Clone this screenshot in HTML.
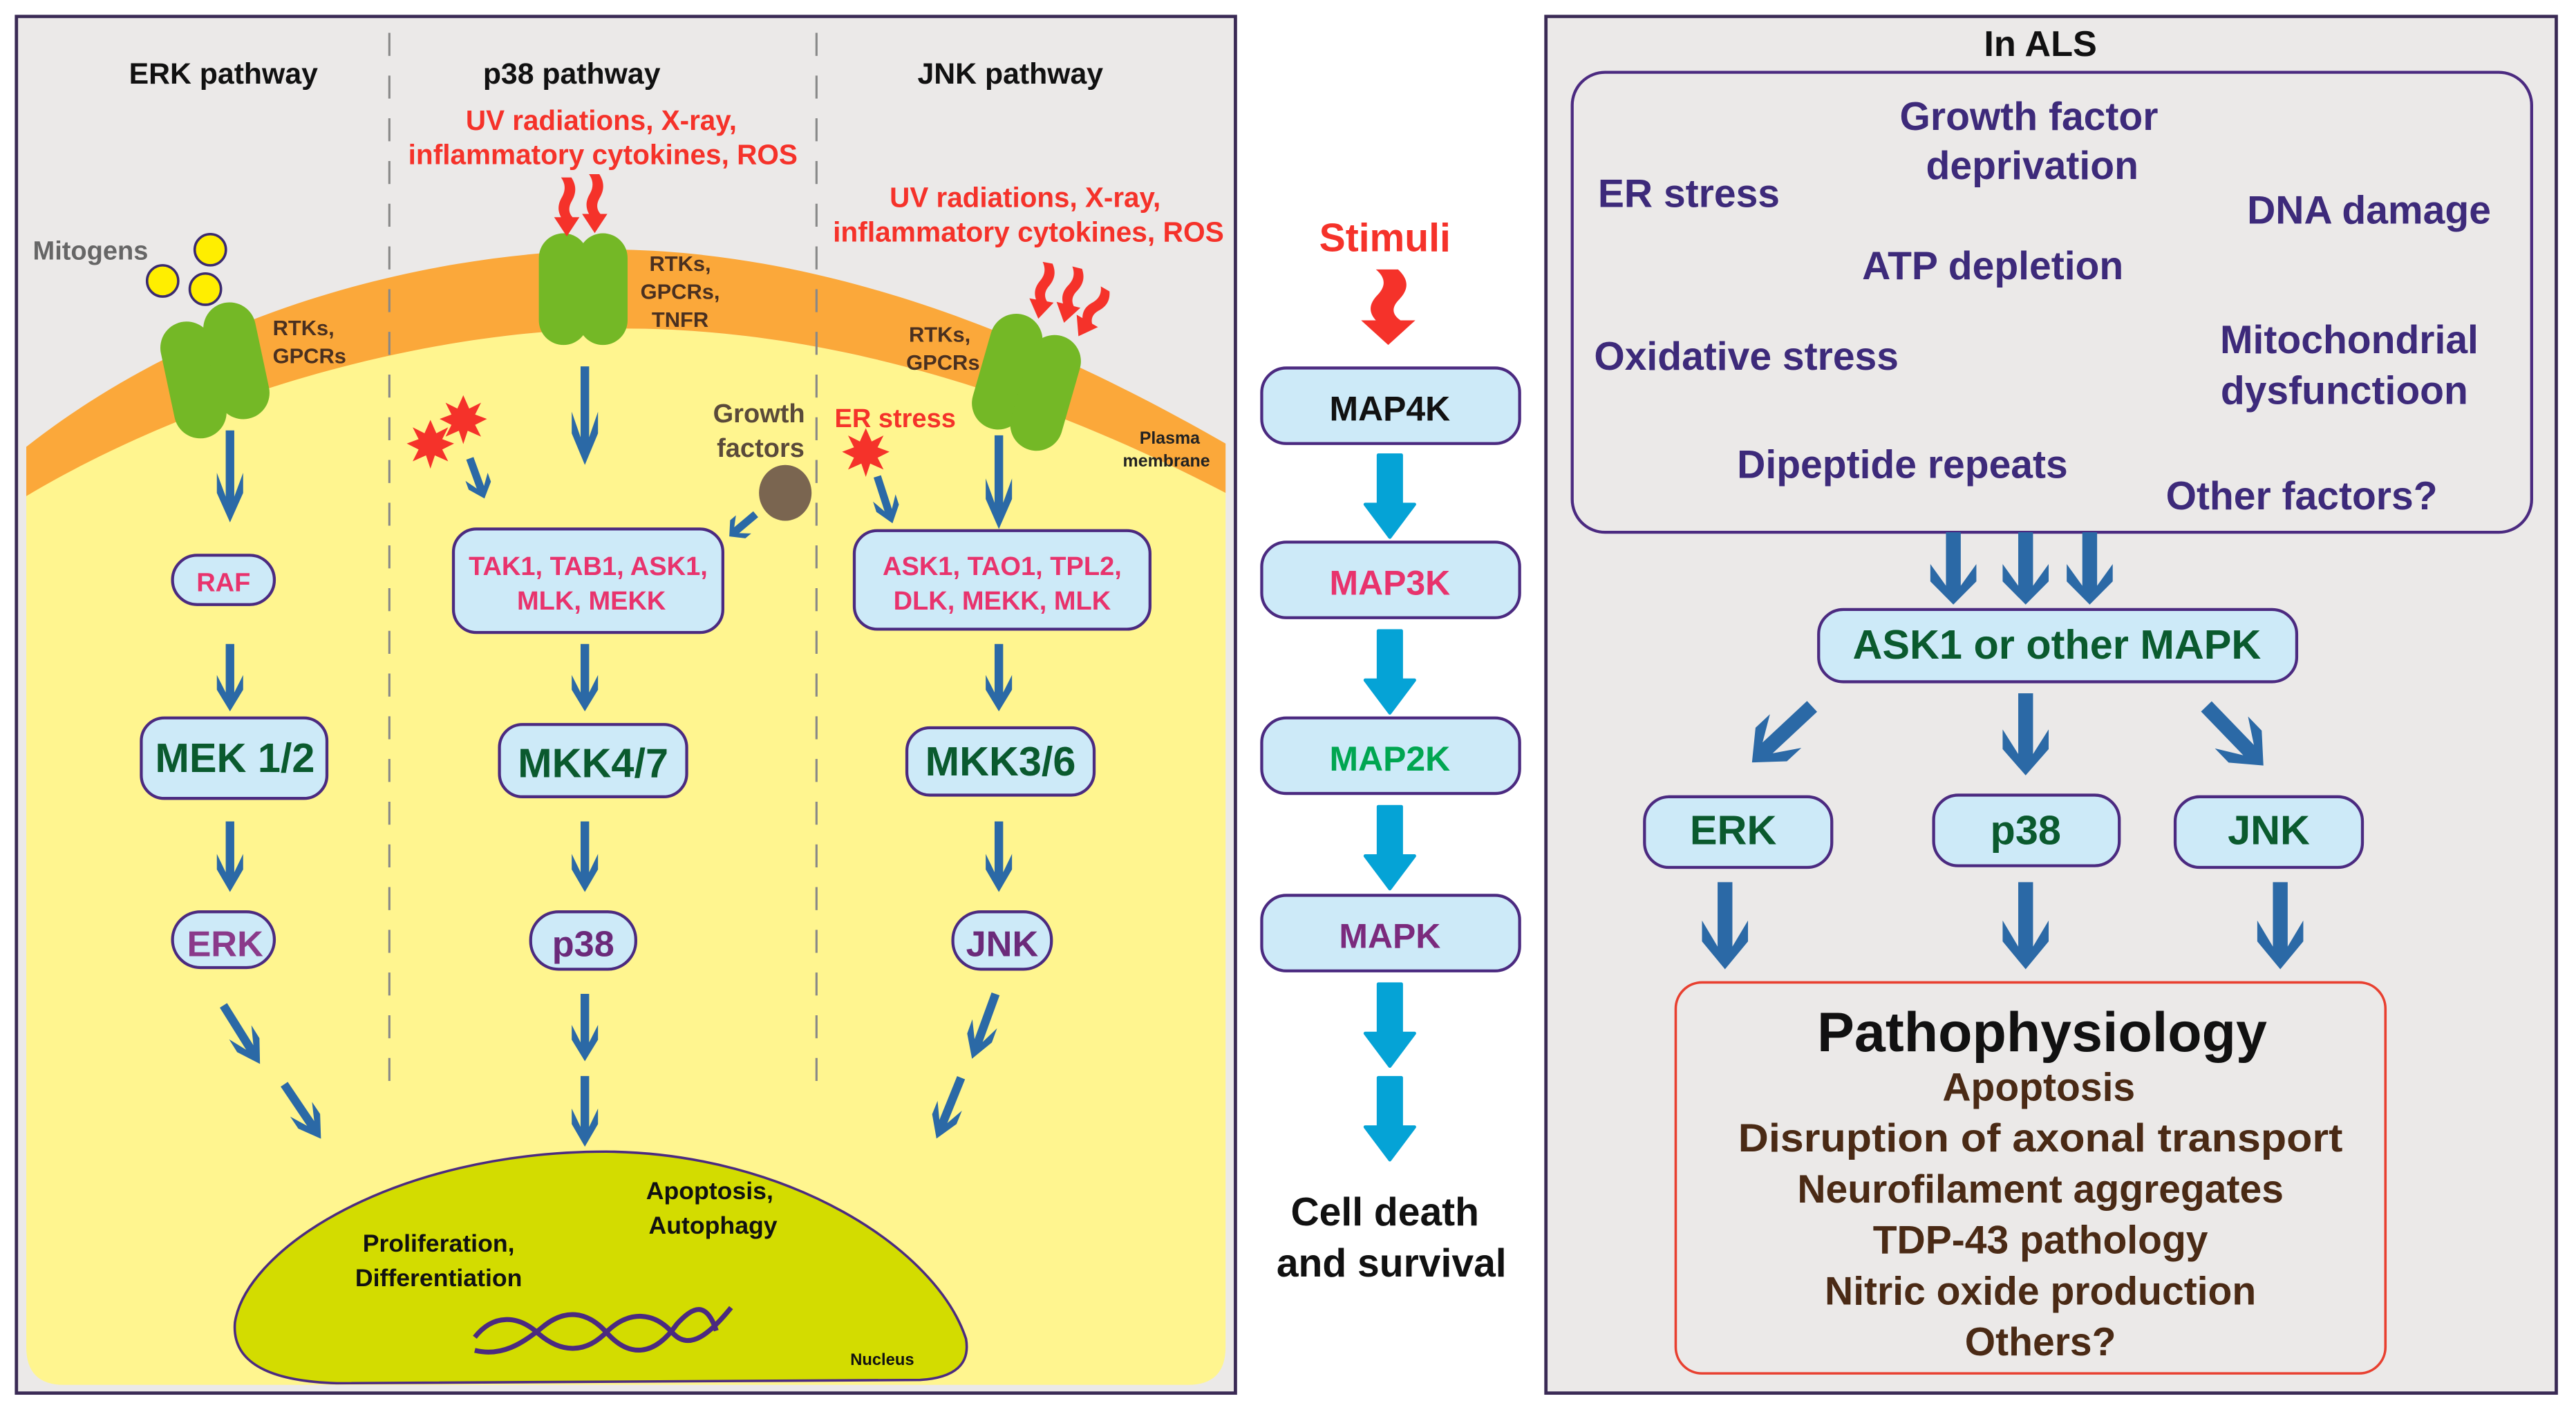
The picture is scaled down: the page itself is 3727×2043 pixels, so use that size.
<!DOCTYPE html>
<html><head><meta charset="utf-8"><style>
html,body{margin:0;padding:0;background:#fff}
svg{display:block}
text{font-family:"Liberation Sans Narrow","Liberation Sans",sans-serif;font-weight:bold}
.w{font-family:"Liberation Sans",sans-serif;font-weight:bold}
</style></head><body>
<svg width="3727" height="2043" viewBox="0 0 1568 859.5" xmlns="http://www.w3.org/2000/svg">
<defs>
<polygon id="ab" points="-2.6,0 2.6,0 2.6,36 8,23 8,34 0,50 -8,34 -8,23 -2.6,36" fill="#2b69a6"/>
<polygon id="ar" points="-4.5,0 4.5,0 4.5,37 14,22 14,34 0,50 -14,34 -14,22 -4.5,37" fill="#2b69a6"/>
<path id="ac" d="M-7,0 H7 V30 H15 L0,50 L-15,30 H-7 Z" fill="#05a3d6" stroke="#05a3d6" stroke-width="2" stroke-linejoin="round"/>
<path id="sq" d="M-5,0 L4,0 C9,7 8,13 4,19 C1,24 2,28 5,31 L11,31 L0,46 L-11,31 L-5,31 C-8,26 -8,21 -4,15 C-1,10 -1,5 -5,0 Z" fill="#f5322a"/>
<polygon id="star" points="0,-16 4,-7 12,-11 8,-3 16,0 8,4 12,12 3,8 0,17 -3,8 -12,12 -8,4 -16,0 -8,-3 -12,-11 -4,-7" fill="#f5322a"/>
</defs>

<!-- LEFT PANEL -->
<rect x="10" y="10" width="742" height="838" fill="#ebe9e8" stroke="#3a2a55" stroke-width="2"/>
<path d="M16,300 C120,240 260,200 380,200 C520,200 650,250 746,300 L746,820 Q746,843 723,843 L39,843 Q16,843 16,820 Z" fill="#fff58f"/>
<path d="M16,272 C120,190 260,152 380,152 C520,155 650,215 746,270 L746,300 C650,250 520,200 380,200 C260,200 120,240 16,302 Z" fill="#fba83a"/>
<line x1="237" y1="20" x2="237" y2="665" stroke="#888" stroke-width="1.3" stroke-dasharray="14,12"/>
<line x1="497" y1="20" x2="497" y2="665" stroke="#888" stroke-width="1.3" stroke-dasharray="14,12"/>

<text x="136" y="51" font-size="18" text-anchor="middle" fill="#111">ERK pathway</text>
<text x="348" y="51" font-size="18" text-anchor="middle" fill="#111">p38 pathway</text>
<text x="615" y="51" font-size="18" text-anchor="middle" fill="#111">JNK pathway</text>

<text x="366" y="79" font-size="17" text-anchor="middle" fill="#f5322a">UV radiations, X-ray,</text>
<text x="367" y="100" font-size="17" text-anchor="middle" fill="#f5322a" textLength="237" lengthAdjust="spacingAndGlyphs">inflammatory cytokines, ROS</text>
<text x="624" y="126" font-size="17" text-anchor="middle" fill="#f5322a">UV radiations, X-ray,</text>
<text x="626" y="147" font-size="17" text-anchor="middle" fill="#f5322a" textLength="238" lengthAdjust="spacingAndGlyphs">inflammatory cytokines, ROS</text>

<text x="20" y="158" font-size="16" fill="#666">Mitogens</text>
<circle cx="128" cy="152" r="9.5" fill="#ffee00" stroke="#3a2a70" stroke-width="1.5"/>
<circle cx="99" cy="171" r="9.5" fill="#ffee00" stroke="#3a2a70" stroke-width="1.5"/>
<circle cx="125" cy="176" r="9.5" fill="#ffee00" stroke="#3a2a70" stroke-width="1.5"/>

<!-- receptors -->
<g transform="translate(133,226) rotate(-12)" fill="#74b826">
<rect x="-32" y="-34" width="32" height="72" rx="16"/><rect x="-4" y="-40" width="32" height="72" rx="16"/></g>
<g transform="translate(355,176)" fill="#74b826">
<rect x="-27" y="-34" width="30" height="68" rx="15"/><rect x="-3" y="-34" width="30" height="68" rx="15"/></g>
<g transform="translate(626,232) rotate(16)" fill="#74b826">
<rect x="-30" y="-38" width="32" height="72" rx="16"/><rect x="-4" y="-32" width="32" height="72" rx="16"/></g>

<text x="166" y="204" font-size="13" fill="#4a3020">RTKs,</text>
<text x="166" y="221" font-size="13" fill="#4a3020">GPCRs</text>
<text x="414" y="165" font-size="13" text-anchor="middle" fill="#4a3020">RTKs,</text>
<text x="414" y="182" font-size="13" text-anchor="middle" fill="#4a3020">GPCRs,</text>
<text x="414" y="199" font-size="13" text-anchor="middle" fill="#4a3020">TNFR</text>
<text x="572" y="208" font-size="13" text-anchor="middle" fill="#4a3020">RTKs,</text>
<text x="574" y="225" font-size="13" text-anchor="middle" fill="#4a3020">GPCRs</text>
<text x="712" y="270" font-size="10.5" text-anchor="middle" fill="#222">Plasma</text>
<text x="710" y="284" font-size="10.5" text-anchor="middle" fill="#222">membrane</text>

<!-- red squiggles -->
<use href="#sq" transform="translate(345,108) scale(0.7,0.78)"/>
<use href="#sq" transform="translate(362,106) scale(0.7,0.78)"/>
<use href="#sq" transform="translate(638,160) rotate(10) scale(0.68,0.75)"/>
<use href="#sq" transform="translate(656,163) rotate(14) scale(0.68,0.75)"/>
<use href="#sq" transform="translate(673,176) rotate(30) scale(0.68,0.72)"/>

<use href="#star" transform="translate(262,270) scale(0.9)"/>
<use href="#star" transform="translate(282,255) scale(0.9)"/>
<use href="#star" transform="translate(527,275) scale(0.9)"/>
<text x="508" y="260" font-size="16" fill="#f5322a">ER stress</text>
<text x="462" y="257" font-size="16" text-anchor="middle" fill="#5a4a3a">Growth</text>
<text x="463" y="278" font-size="16" text-anchor="middle" fill="#5a4a3a">factors</text>
<ellipse cx="478" cy="300" rx="16" ry="17" fill="#7a6550"/>

<!-- blue arrows left panel -->
<use href="#ab" transform="translate(140,262) scale(1,1.12)"/>
<use href="#ab" transform="translate(356,223) scale(1,1.2)"/>
<use href="#ab" transform="translate(608,265) scale(1,1.14)"/>
<use href="#ab" transform="translate(286,279) rotate(-20) scale(0.9,0.52)"/>
<use href="#ab" transform="translate(534,290) rotate(-18) scale(0.9,0.6)"/>
<use href="#ab" transform="translate(460,313) rotate(50) scale(0.9,0.42)"/>
<g>
<use href="#ab" transform="translate(140,392) scale(1,0.82)"/>
<use href="#ab" transform="translate(356,392) scale(1,0.82)"/>
<use href="#ab" transform="translate(608,392) scale(1,0.82)"/>
<use href="#ab" transform="translate(140,500) scale(1,0.86)"/>
<use href="#ab" transform="translate(356,500) scale(1,0.86)"/>
<use href="#ab" transform="translate(608,500) scale(1,0.86)"/>
<use href="#ab" transform="translate(356,605) scale(1,0.82)"/>
<use href="#ab" transform="translate(356,655) scale(1,0.86)"/>
<use href="#ab" transform="translate(136,612) rotate(-32) scale(1,0.84)"/>
<use href="#ab" transform="translate(173,660) rotate(-34) scale(1,0.8)"/>
<use href="#ab" transform="translate(606,605) rotate(20) scale(1,0.84)"/>
<use href="#ab" transform="translate(585,656) rotate(22) scale(1,0.8)"/>
</g>

<!-- left boxes -->
<g stroke="#4b2a80" stroke-width="1.8" fill="#cdeaf8">
<rect x="105" y="338" width="62" height="30" rx="15"/>
<rect x="276" y="322" width="164" height="63" rx="14"/>
<rect x="520" y="323" width="180" height="60" rx="14"/>
<rect x="86" y="437" width="113" height="49" rx="14"/>
<rect x="304" y="441" width="114" height="44" rx="14"/>
<rect x="552" y="443" width="114" height="41" rx="14"/>
<rect x="105" y="555" width="62" height="34" rx="17"/>
<rect x="323" y="555" width="64" height="35" rx="17"/>
<rect x="580" y="555" width="60" height="35" rx="17"/>
</g>
<text x="136" y="360" font-size="16" text-anchor="middle" fill="#e8336d">RAF</text>
<text x="358" y="350" font-size="16" text-anchor="middle" fill="#e8336d">TAK1, TAB1, ASK1,</text>
<text x="360" y="371" font-size="16" text-anchor="middle" fill="#e8336d">MLK, MEKK</text>
<text x="610" y="350" font-size="16" text-anchor="middle" fill="#e8336d">ASK1, TAO1, TPL2,</text>
<text x="610" y="371" font-size="16" text-anchor="middle" fill="#e8336d">DLK, MEKK, MLK</text>
<text x="143" y="470" font-size="25" text-anchor="middle" fill="#0a5a2e">MEK 1/2</text>
<text x="361" y="473" font-size="25" text-anchor="middle" fill="#0a5a2e">MKK4/7</text>
<text x="609" y="472" font-size="25" text-anchor="middle" fill="#0a5a2e">MKK3/6</text>
<text x="137" y="582" font-size="22" text-anchor="middle" fill="#8a3a8a">ERK</text>
<text x="355" y="582" font-size="22" text-anchor="middle" fill="#6b2a7a">p38</text>
<text x="610" y="582" font-size="22" text-anchor="middle" fill="#6b2a7a">JNK</text>

<!-- nucleus -->
<path d="M143,805 C150,760 240,701 369,701 C480,702 570,760 588,815 Q592,838 560,840 L205,842 Q140,840 143,805 Z" fill="#d3dc00" stroke="#4b2a80" stroke-width="1.5"/>
<text x="267" y="762" font-size="15" text-anchor="middle" fill="#111">Proliferation,</text>
<text x="267" y="783" font-size="15" text-anchor="middle" fill="#111">Differentiation</text>
<text x="432" y="730" font-size="15" text-anchor="middle" fill="#111">Apoptosis,</text>
<text x="434" y="751" font-size="15" text-anchor="middle" fill="#111">Autophagy</text>
<text x="537" y="831" font-size="10" text-anchor="middle" fill="#111">Nucleus</text>
<path d="M289,814 C300,800 315,800 328,812 C342,824 357,824 370,810 C383,798 398,798 410,812 C420,822 432,812 445,796" fill="none" stroke="#4b2a80" stroke-width="3"/>
<path d="M289,822 C305,826 318,818 330,808 C343,797 357,797 370,812 C383,826 398,826 412,806 C422,795 430,792 436,810" fill="none" stroke="#4b2a80" stroke-width="3"/>

<!-- MIDDLE -->
<text class="w" x="843" y="153" font-size="24" text-anchor="middle" fill="#f5322a">Stimuli</text>
<use href="#sq" transform="translate(845,164) scale(1.5,1.0)"/>
<g stroke="#4b2a80" stroke-width="1.8" fill="#cdeaf8">
<rect x="768" y="224" width="157" height="46" rx="15"/>
<rect x="768" y="330" width="157" height="46" rx="15"/>
<rect x="768" y="437" width="157" height="46" rx="15"/>
<rect x="768" y="545" width="157" height="46" rx="15"/>
</g>
<text class="w" x="846" y="256" font-size="21" text-anchor="middle" fill="#111">MAP4K</text>
<text class="w" x="846" y="362" font-size="21" text-anchor="middle" fill="#e8336d">MAP3K</text>
<text class="w" x="846" y="469" font-size="21" text-anchor="middle" fill="#00a651">MAP2K</text>
<text class="w" x="846" y="577" font-size="21" text-anchor="middle" fill="#7b2a7d">MAPK</text>
<use href="#ac" transform="translate(846,277)"/>
<use href="#ac" transform="translate(846,384)"/>
<use href="#ac" transform="translate(846,491)"/>
<use href="#ac" transform="translate(846,599)"/>
<use href="#ac" transform="translate(846,656)"/>
<text x="843" y="746" font-size="24" text-anchor="middle" fill="#111">Cell death</text>
<text x="847" y="777" font-size="24" text-anchor="middle" fill="#111">and survival</text>

<!-- RIGHT PANEL -->
<rect x="941" y="10" width="615" height="838" fill="#ebe9e8" stroke="#3a2a55" stroke-width="2"/>
<text x="1242" y="34" font-size="22" text-anchor="middle" fill="#111">In ALS</text>
<rect x="957" y="44" width="584" height="280" rx="20" fill="none" stroke="#4b2a80" stroke-width="1.8"/>
<g font-size="24" fill="#3d2a7a" text-anchor="middle">
<text x="1235" y="79">Growth factor</text>
<text x="1237" y="109">deprivation</text>
<text x="1028" y="126">ER stress</text>
<text x="1442" y="136">DNA damage</text>
<text x="1213" y="170">ATP depletion</text>
<text x="1063" y="225">Oxidative stress</text>
<text x="1430" y="215">Mitochondrial</text>
<text x="1427" y="246">dysfunctioon</text>
<text x="1158" y="291">Dipeptide repeats</text>
<text x="1401" y="310">Other factors?</text>
</g>
<use href="#ar" transform="translate(1189,324) scale(1,0.88)"/>
<use href="#ar" transform="translate(1233,324) scale(1,0.88)"/>
<use href="#ar" transform="translate(1272,324) scale(1,0.88)"/>
<g stroke="#4b2a80" stroke-width="1.8" fill="#cdeaf8">
<rect x="1107" y="371" width="291" height="44" rx="15"/>
<rect x="1001" y="485" width="114" height="43" rx="15"/>
<rect x="1177" y="484" width="113" height="43" rx="15"/>
<rect x="1324" y="485" width="114" height="43" rx="15"/>
</g>
<text x="1252" y="401" font-size="25" text-anchor="middle" fill="#0a5a2e">ASK1 or other MAPK</text>
<text x="1055" y="514" font-size="25" text-anchor="middle" fill="#0a5a2e">ERK</text>
<text x="1233" y="514" font-size="25" text-anchor="middle" fill="#0a5a2e">p38</text>
<text x="1381" y="514" font-size="25" text-anchor="middle" fill="#0a5a2e">JNK</text>
<use href="#ar" transform="translate(1103,430) rotate(47) scale(1,1)"/>
<use href="#ar" transform="translate(1233,422) scale(1,1)"/>
<use href="#ar" transform="translate(1343,430) rotate(-44) scale(1,1)"/>
<use href="#ar" transform="translate(1050,537) scale(1,1.06)"/>
<use href="#ar" transform="translate(1233,537) scale(1,1.06)"/>
<use href="#ar" transform="translate(1388,537) scale(1,1.06)"/>
<rect x="1020" y="598" width="432" height="238" rx="16" fill="none" stroke="#e84030" stroke-width="1.5"/>
<text x="1243" y="640" font-size="34" text-anchor="middle" fill="#111" style="font-family:'Liberation Sans',sans-serif">Pathophysiology</text>
<g font-size="24" fill="#4a2a15" text-anchor="middle">
<text x="1241" y="670">Apoptosis</text>
<text x="1242" y="701" textLength="368" lengthAdjust="spacingAndGlyphs">Disruption of axonal transport</text>
<text x="1242" y="732">Neurofilament aggregates</text>
<text x="1242" y="763">TDP-43 pathology</text>
<text x="1242" y="794">Nitric oxide production</text>
<text x="1242" y="825">Others?</text>
</g>
</svg>
</body></html>
